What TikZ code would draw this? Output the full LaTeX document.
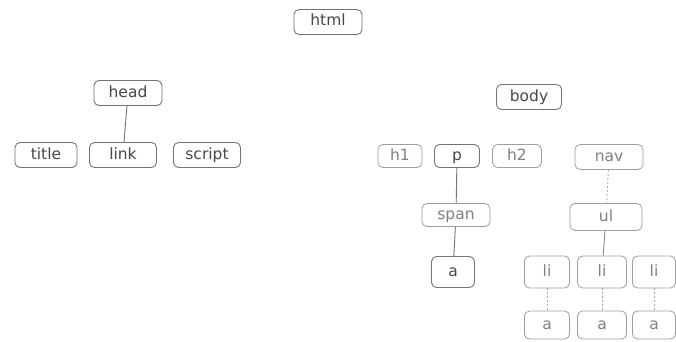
\documentclass[tikz,border=0pt]{standalone}
\usepackage{fontspec}
\setmainfont{DejaVu Sans}
\begin{document}
\begin{tikzpicture}[x=1pt,y=-1pt,
  tag/.style={draw=black!55, line width=0.9pt, rounded corners=5pt, text=black!72,
    font=\fontsize{15.5}{16}\selectfont, inner sep=0pt, minimum height=25pt, text height=11pt, text depth=3pt},
  faint/.style={draw=black!38, line width=0.8pt, rounded corners=5pt, text=black!50,
    font=\fontsize{15.5}{16}\selectfont, inner sep=0pt, minimum height=27pt, text height=11pt, text depth=3pt},
  edge/.style={draw=black!55, line width=0.9pt},
  fedge/.style={draw=black!35, line width=0.8pt, dash pattern=on 2pt off 2pt}]
\useasboundingbox (0,0) rectangle (676,342);
\fill[white] (0,0) rectangle (676,342);
\node[tag, minimum width=68pt] (html) at (328,22) {html};
\node[tag, minimum width=68pt] (head) at (128,93) {head};
\node[tag, minimum width=62pt] (title) at (46,155) {title};
\node[tag, minimum width=67pt] (link) at (123,155) {link};
\node[tag, minimum width=67pt] (script) at (207,155) {script};
\node[tag, minimum width=65pt] (body) at (529,97) {body};
\node[faint, minimum width=44pt, minimum height=23pt] (h1) at (400,156) {h1};
\node[tag, minimum width=45pt, minimum height=23pt] (p) at (457,156) {p};
\node[faint, minimum width=49pt, minimum height=23pt] (h2) at (517,156) {h2};
\node[faint, minimum width=68pt, minimum height=25pt] (nav) at (609,157) {nav};
\node[faint, minimum width=68pt, minimum height=23pt] (span) at (456,215) {span};
\node[faint, minimum width=72pt] (ul) at (606,217) {ul};
\node[tag, minimum width=43pt, minimum height=31pt] (a0) at (453,272) {a};
\node[faint, minimum width=45pt, minimum height=32pt] (li1) at (547,272) {li};
\node[faint, minimum width=49pt, minimum height=32pt] (li2) at (602,272) {li};
\node[faint, minimum width=43pt, minimum height=32pt] (li3) at (654,272) {li};
\node[faint, minimum width=45pt, minimum height=28pt] (a1) at (547,325) {a};
\node[faint, minimum width=49pt, minimum height=28pt] (a2) at (602,325) {a};
\node[faint, minimum width=43pt, minimum height=28pt] (a3) at (654,325) {a};
\draw[edge] (head) -- (link);
\draw[edge] (p) -- (span);
\draw[edge] (span) -- (a0);
\draw[fedge] (nav) -- (ul);
\draw[edge, draw=black!45] (ul) -- (li2);
\draw[fedge] (li1) -- (a1);
\draw[fedge] (li2) -- (a2);
\draw[fedge] (li3) -- (a3);
\end{tikzpicture}
\end{document}
